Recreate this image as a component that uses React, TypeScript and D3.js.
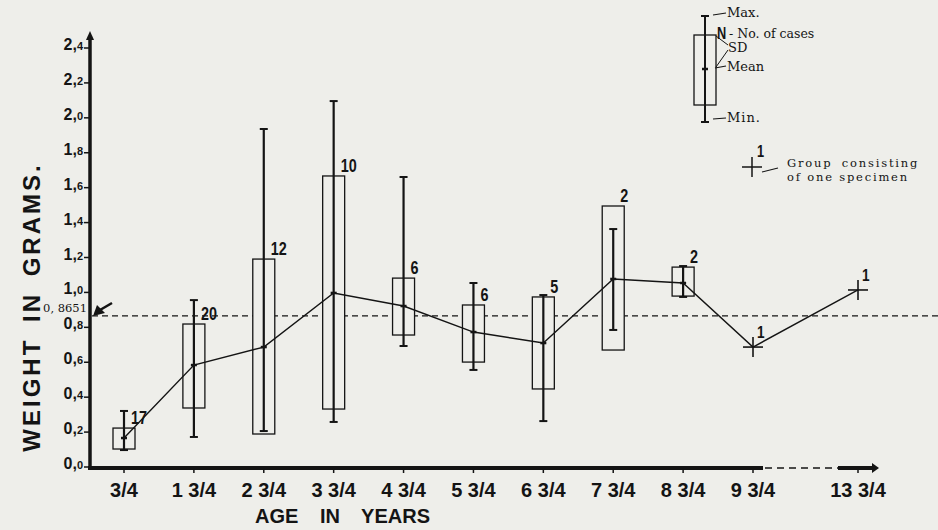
import React from 'react'
import * as d3 from 'd3'

// age groups (years) and their axis labels
const ages = [0.75, 1.75, 2.75, 3.75, 4.75, 5.75, 6.75, 7.75, 8.75, 9.75, 13.75]
const ageLabels = ['3/4', '1 3/4', '2 3/4', '3 3/4', '4 3/4', '5 3/4', '6 3/4', '7 3/4', '8 3/4', '9 3/4', '13 3/4']

// weight in grams
const means = [0.166, 0.584, 0.687, 0.997, 0.922, 0.773, 0.71, 1.077, 1.054, 0.687, 1.014]
const maxs = [0.321, 0.956, 1.936, 2.096, 1.661, 1.054, 0.985, 1.363, 1.151, null, null]
const mins = [0.097, 0.172, 0.206, 0.258, 0.693, 0.556, 0.263, 0.785, 0.974, null, null]
const sdHigh = [0.223, 0.819, 1.191, 1.667, 1.082, 0.928, 0.974, 1.495, 1.145, null, null]
const sdLow = [0.103, 0.338, 0.189, 0.332, 0.756, 0.601, 0.447, 0.67, 0.979, null, null]
const cases = [17, 20, 12, 10, 6, 6, 5, 2, 2, 1, 1]

const overallMean = 0.8651
const yTicks = [0, 0.2, 0.4, 0.6, 0.8, 1.0, 1.2, 1.4, 1.6, 1.8, 2.0, 2.2, 2.4]

const BG = '#eeeeea'
const INK = '#141414'
const SANS = '"Liberation Sans", Arial, sans-serif'
const SERIF = '"DejaVu Serif", "Liberation Serif", serif'

export default function App() {
  const W = 938
  const H = 530

  const y = d3.scaleLinear().domain([0, 2.4]).range([467, 48])
  // broken axis: 9 3/4 -> 13 3/4 is squeezed
  const x = d3.scaleLinear().domain([0.75, 9.75, 13.75]).range([124, 753, 858])
  const half = 11

  const meanLine = d3.line<number>()
    .x((d, i) => x(ages[i]))
    .y(d => y(d))

  const yLabel = (v: number) => d3.format('.1f')(v).split('.')

  // condensed bold numerals like the original lettering
  const num = (key: string, tx: number, ty: number, s: string | number, size = 18) => (
    <text key={key} transform={`translate(${tx},${ty}) scale(0.8,1)`} fontFamily={SANS}
      fontWeight="bold" fontSize={size} fill={INK}>{s}</text>
  )

  return (
    <svg width={W} height={H} style={{position: 'absolute', left: 0, top: 0}}>
      <rect width={W} height={H} fill={BG} />

      {/* overall mean reference */}
      <line x1={92} x2={W} y1={y(overallMean)} y2={y(overallMean)}
        stroke={INK} strokeWidth={1.3} strokeDasharray="6,4" />

      {/* y axis */}
      <line x1={90} x2={90} y1={469} y2={36} stroke={INK} strokeWidth={3.5} />
      <path d="M86,40 L90,31 L94,40 Z" fill={INK} />
      {yTicks.map(v => {
        const [a, b] = yLabel(v)
        return (
          <g key={v}>
            <line x1={84} x2={89} y1={y(v)} y2={y(v)} stroke={INK} strokeWidth={1.5} />
            <text x={83} y={y(v) + 2} textAnchor="end" fontFamily={SANS} fontWeight="bold"
              fill={INK} fontSize={16}>
              {a},<tspan fontSize={11}>{b}</tspan>
            </text>
          </g>
        )
      })}

      {/* x axis, broken between 9 3/4 and 13 3/4 */}
      <line x1={88} x2={763} y1={468} y2={468} stroke={INK} strokeWidth={4} />
      <line x1={765} x2={838} y1={468} y2={468} stroke={INK} strokeWidth={1.5} strokeDasharray="7,5" />
      <line x1={838} x2={874} y1={468} y2={468} stroke={INK} strokeWidth={4} />
      <path d="M872,463 L879,468 L872,473 Z" fill={INK} />
      {ages.map((a, i) => (
        <g key={a}>
          <line x1={x(a)} x2={x(a)} y1={468} y2={473} stroke={INK} strokeWidth={1.5} />
          <text x={x(a)} y={497} textAnchor="middle" fontFamily={SANS} fontWeight="bold"
            fontSize={20} fill={INK}>{ageLabels[i]}</text>
        </g>
      ))}
      <text x={255} y={523} fontFamily={SANS} fontWeight="bold" fontSize={20} fill={INK}
        style={{wordSpacing: '16px'}}>AGE IN YEARS</text>

      <text transform="translate(40,307) rotate(-90)" textAnchor="middle" fontFamily={SANS}
        fontWeight="bold" fontSize={24} fill={INK}
        style={{letterSpacing: '3px', wordSpacing: '6px'}}>WEIGHT IN GRAMS.</text>

      {/* overall mean label with arrow */}
      <text x={87} y={312} textAnchor="end" fontFamily={SERIF} fontSize={11.5} fill={INK}>0, 8651</text>
      <line x1={112} x2={100} y1={303} y2={310} stroke={INK} strokeWidth={2.6} />
      <path d="M93,316 L97,305 L105,313 Z" fill={INK} />

      {/* boxes: SD range, min-max whisker */}
      {ages.map((a, i) => {
        if (maxs[i] == null) return null
        const cx = x(a)
        const top = y(sdHigh[i] as number)
        const bot = y(sdLow[i] as number)
        return (
          <g key={'b' + a}>
            <rect x={cx - half} y={top} width={half * 2} height={bot - top}
              fill={BG} stroke={INK} strokeWidth={1.3} />
            <line x1={cx} x2={cx} y1={y(maxs[i] as number)} y2={y(mins[i] as number)}
              stroke={INK} strokeWidth={2.2} />
            <line x1={cx - 4} x2={cx + 4} y1={y(maxs[i] as number)} y2={y(maxs[i] as number)}
              stroke={INK} strokeWidth={2} />
            <line x1={cx - 4} x2={cx + 4} y1={y(mins[i] as number)} y2={y(mins[i] as number)}
              stroke={INK} strokeWidth={2} />
          </g>
        )
      })}

      {/* line through group means */}
      <path d={meanLine(means) as string} fill="none" stroke={INK} strokeWidth={1.4} />
      {ages.map((a, i) => {
        const cx = x(a)
        const cy = y(means[i])
        if (maxs[i] == null) {
          return (
            <g key={'m' + a}>
              <line x1={cx - 10} x2={cx + 10} y1={cy} y2={cy} stroke={INK} strokeWidth={1.6} />
              <line x1={cx} x2={cx} y1={cy - 10} y2={cy + 10} stroke={INK} strokeWidth={1.6} />
            </g>
          )
        }
        return <line key={'m' + a} x1={cx - 3} x2={cx + 3} y1={cy} y2={cy} stroke={INK} strokeWidth={2.5} />
      })}

      {/* number of cases */}
      {ages.map((a, i) => {
        const cx = x(a)
        const single = maxs[i] == null
        const ly = single ? y(means[i]) - 9 : y(sdHigh[i] as number) - 4
        return num('n' + a, single ? cx + 4 : cx + 7, ly, cases[i], single ? 17 : 18)
      })}

      {/* legend */}
      <g fill={INK} fontFamily={SERIF} fontSize={13}>
        <rect x={694} y={35} width={22} height={70} fill={BG} stroke={INK} strokeWidth={1.3} />
        <line x1={705} x2={705} y1={16} y2={122} stroke={INK} strokeWidth={2} />
        <line x1={701} x2={709} y1={16} y2={16} stroke={INK} strokeWidth={2} />
        <line x1={701} x2={709} y1={122} y2={122} stroke={INK} strokeWidth={2} />
        <line x1={702} x2={708} y1={69} y2={69} stroke={INK} strokeWidth={2.5} />

        <line x1={713} x2={726} y1={15} y2={13} stroke={INK} strokeWidth={1.2} />
        <text x={727} y={17}>Max.</text>
        {num('legN', 717, 39, 'N', 16)}
        <text x={729} y={38} fontSize={12.5}>- No. of cases</text>
        <line x1={716} x2={728} y1={36} y2={45} stroke={INK} strokeWidth={1} />
        <line x1={728} x2={716} y1={50} y2={67} stroke={INK} strokeWidth={1} />
        <text x={728} y={52}>SD</text>
        <line x1={715} x2={726} y1={68} y2={66} stroke={INK} strokeWidth={1.2} />
        <text x={727} y={71}>Mean</text>
        <line x1={713} x2={726} y1={119} y2={118} stroke={INK} strokeWidth={1.2} />
        <text x={727} y={122} style={{letterSpacing: '1px'}}>Min.</text>

        <line x1={742} x2={762} y1={167} y2={167} stroke={INK} strokeWidth={1.5} />
        <line x1={752} x2={752} y1={157} y2={177} stroke={INK} strokeWidth={1.5} />
        {num('leg1', 757, 157, 1, 16)}
        <line x1={762} x2={778} y1={172} y2={168} stroke={INK} strokeWidth={1.2} />
        <text x={787} y={167} fontSize={11.5} style={{letterSpacing: '1.8px', wordSpacing: '4px'}}>Group consisting</text>
        <text x={787} y={181} fontSize={11.5} style={{letterSpacing: '1.8px'}}>of one specimen</text>
      </g>
    </svg>
  )
}
